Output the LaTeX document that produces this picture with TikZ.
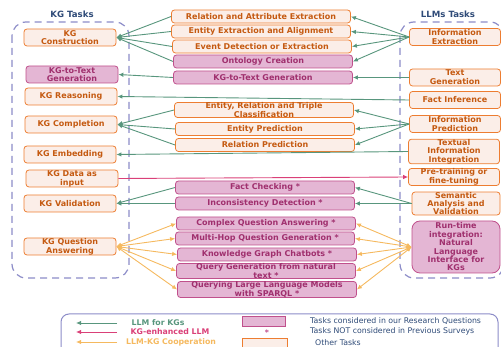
\documentclass[tikz,border=0pt]{standalone}
\usepackage{fontspec}
\setmainfont{DejaVu Sans}
\usepackage{xcolor}
\usepackage{tikz}
\usetikzlibrary{arrows.meta}
\definecolor{KGOrange}{RGB}{237, 125, 49}
\definecolor{KGOrangeFill}{RGB}{251, 238, 232}
\definecolor{KGOrangeText}{RGB}{197, 90, 17}
\definecolor{KGPink}{RGB}{192, 80, 140}
\definecolor{KGPinkFill}{RGB}{228, 182, 212}
\definecolor{KGPinkText}{RGB}{160, 48, 110}
\definecolor{KGGreen}{RGB}{88, 150, 125}
\definecolor{KGRed}{RGB}{218, 64, 120}
\definecolor{KGGold}{RGB}{245, 185, 95}
\definecolor{KGLavender}{RGB}{140, 140, 200}
\definecolor{KGNavy}{RGB}{47, 75, 120}
\tikzset{
  othertask/.style={rounded corners=3pt, draw=KGOrange, fill=KGOrangeFill,
    line width=0.8pt, text=KGOrangeText, align=center, inner sep=0pt,
    font=\fontsize{8}{8.8}\selectfont\bfseries, minimum height=17pt},
  rqtask/.style={othertask, draw=KGPink, fill=KGPinkFill, text=KGPinkText},
  kgside/.style={minimum width=92pt},
  midtask/.style={minimum width=179pt, minimum height=13pt},
  llmside/.style={minimum width=91pt},
  forkg/.style={draw=KGGreen, line width=0.9pt, -{Latex[length=5pt,width=4.5pt]}},
  enhanced/.style={forkg, draw=KGRed},
  coop/.style={forkg, draw=KGGold, {Latex[length=5pt,width=4.5pt]}-{Latex[length=5pt,width=4.5pt]}},
  taskarea/.style={draw=KGLavender, line width=1.2pt, dash pattern=on 7pt off 5pt, rounded corners=14pt},
  areatitle/.style={text=KGNavy, font=\fontsize{8.6}{10}\selectfont\bfseries},
  legendtext/.style={anchor=west, text=KGNavy, font=\fontsize{7.8}{9}\selectfont, inner sep=0pt}
}

\begin{document}
\begin{tikzpicture}[x=1pt, y=-1pt]
  \useasboundingbox (0,0) rectangle (501,347);
  \clip (0,0) rectangle (501,347);

  % task areas
  \draw[taskarea] (12,22) rectangle (129,278);
  \draw[taskarea] (400,22) rectangle (504,278);
  \node[areatitle] (kgtitle) at (72,14) {KG Tasks};
  \node[areatitle] (llmtitle) at (448,14) {LLMs Tasks};

  % KG tasks
  \node[othertask, kgside] (kgcon) at (70,37.5) {KG\\Construction};
  \node[rqtask, kgside] (kgtxt) at (72,74.5) {KG-to-Text\\Generation};
  \node[othertask, kgside] (kgreas) at (71,96.5) {KG Reasoning};
  \node[othertask, kgside] (kgcomp) at (71,124.5) {KG Completion};
  \node[othertask, kgside] (kgemb) at (70,154.5) {KG Embedding};
  \node[othertask, kgside] (kgdata) at (72,178.5) {KG Data as\\input};
  \node[othertask, kgside] (kgval) at (70,203.5) {KG Validation};
  \node[othertask, kgside] (kgqa) at (70,246.5) {KG Question\\Answering};

  % middle tasks
  \node[othertask, midtask] (rae) at (261,16.5) {Relation and Attribute Extraction};
  \node[othertask, midtask] (eea) at (261,31.5) {Entity Extraction and Alignment};
  \node[othertask, midtask] (ede) at (262,46.5) {Event Detection or Extraction};
  \node[rqtask, midtask] (onto) at (263,61.5) {Ontology Creation};
  \node[rqtask, midtask] (ttg) at (263,77.5) {KG-to-Text Generation};
  \node[othertask, midtask] (erc) at (264,110) {Entity, Relation and Triple\\Classification};
  \node[othertask, midtask] (ep) at (265,129) {Entity Prediction};
  \node[othertask, midtask] (rp) at (265,145) {Relation Prediction};
  \node[rqtask, midtask] (fc) at (265,187.5) {Fact Checking *};
  \node[rqtask, midtask] (icd) at (265,203.5) {Inconsistency Detection *};
  \node[rqtask, midtask] (cqa) at (266,223.5) {Complex Question Answering *};
  \node[rqtask, midtask] (mhq) at (265,238.5) {Multi-Hop Question Generation *};
  \node[rqtask, midtask] (kgcb) at (267,254.5) {Knowledge Graph Chatbots *};
  \node[rqtask, midtask] (qgen) at (266,271) {Query Generation from natural\\text *};
  \node[rqtask, midtask] (qsp) at (267,289.5) {Querying Large Language Models\\with SPARQL *};

  % LLM tasks
  \node[othertask, llmside] (ie) at (455,37) {Information\\Extraction};
  \node[othertask, llmside] (tg) at (455,77.5) {Text\\Generation};
  \node[othertask, llmside] (fi) at (455,100) {Fact Inference};
  \node[othertask, llmside] (ip) at (455,124) {Information\\Prediction};
  \node[othertask, llmside, font=\fontsize{8}{8.4}\selectfont\bfseries] (tii) at (454,151.5) {Textual\\Information\\Integration};
  \node[othertask, llmside] (ptft) at (454,177) {Pre-training or\\fine-tuning};
  \node[othertask, minimum width=88pt, font=\fontsize{8}{8.4}\selectfont\bfseries] (sav) at (456,203.5) {Semantic\\Analysis and\\Validation};
  \node[rqtask, rounded corners=8pt, minimum width=88pt, minimum height=52pt, font=\fontsize{8}{8.4}\selectfont\bfseries] (rti) at (456,247)
    {Run-time\\integration:\\Natural\\Language\\Interface for\\KGs};

  % LLM for KGs
  \foreach \t in {rae,eea,ede,onto} {
    \draw[forkg] (ie.west) -- (\t.east);
    \draw[forkg] (\t.west) -- (kgcon.east);
  }
  \draw[forkg] (tg.west) -- (ttg.east);
  \draw[forkg] (ttg.west) -- (kgtxt.east);
  \draw[forkg] (fi.west) -- (kgreas.east);
  \foreach \t in {erc,ep,rp} {
    \draw[forkg] (ip.west) -- (\t.east);
    \draw[forkg] (\t.west) -- (kgcomp.east);
  }
  \draw[forkg] (tii.west) -- (kgemb.east);
  \foreach \t in {fc,icd} {
    \draw[forkg] (sav.west) -- (\t.east);
    \draw[forkg] (\t.west) -- (kgval.east);
  }

  % KG-enhanced LLM
  \draw[enhanced] (kgdata.east) -- (ptft.west);

  % LLM-KG cooperation
  \foreach \t in {cqa,mhq,kgcb,qgen,qsp} {
    \draw[coop] (kgqa.east) -- (\t.west);
    \draw[coop] (rti.west) -- (\t.east);
  }

  % legend
  \draw[draw=KGLavender, line width=1pt, rounded corners=8pt] (61,314) rectangle (498,356);
  \coordinate (lga) at (117,323);
  \coordinate (lgb) at (76,323);
  \coordinate (lgc) at (117,332);
  \coordinate (lgd) at (76,332);
  \coordinate (lge) at (117,342);
  \coordinate (lgf) at (76,342);
  \draw[forkg] (lga) -- (lgb);
  \draw[enhanced] (lgc) -- (lgd);
  \draw[forkg, draw=KGGold] (lge) -- (lgf);
  \node[text=KGGreen, font=\fontsize{7.8}{9}\selectfont\bfseries] (lgforkg) at (158,323) {LLM for KGs};
  \node[text=KGRed, font=\fontsize{7.8}{9}\selectfont\bfseries] (lgenh) at (170,332) {KG-enhanced LLM};
  \node[text=KGGold, font=\fontsize{7.8}{9}\selectfont\bfseries] (lgcoop) at (171,342) {LLM-KG Cooperation};
  \node[draw=KGPink, fill=KGPinkFill, line width=0.8pt, minimum width=43pt, minimum height=10pt, inner sep=0pt] (lgrq) at (263.5,321) {};
  \node[text=KGPink, font=\fontsize{7.8}{9}\selectfont\bfseries] (lgstar) at (267,332.5) {*};
  \node[draw=KGOrange, fill=KGOrangeFill, line width=0.8pt, minimum width=45pt, minimum height=11pt, inner sep=0pt] (lgother) at (264.5,343.5) {};
  \node[legendtext] (lgrqtxt) at (310,321) {Tasks considered in our Research Questions};
  \node[legendtext] (lgstartxt) at (310,331) {Tasks NOT considered in Previous Surveys};
  \node[legendtext] (lgothertxt) at (315,343) {Other Tasks};
\end{tikzpicture}
\end{document}
